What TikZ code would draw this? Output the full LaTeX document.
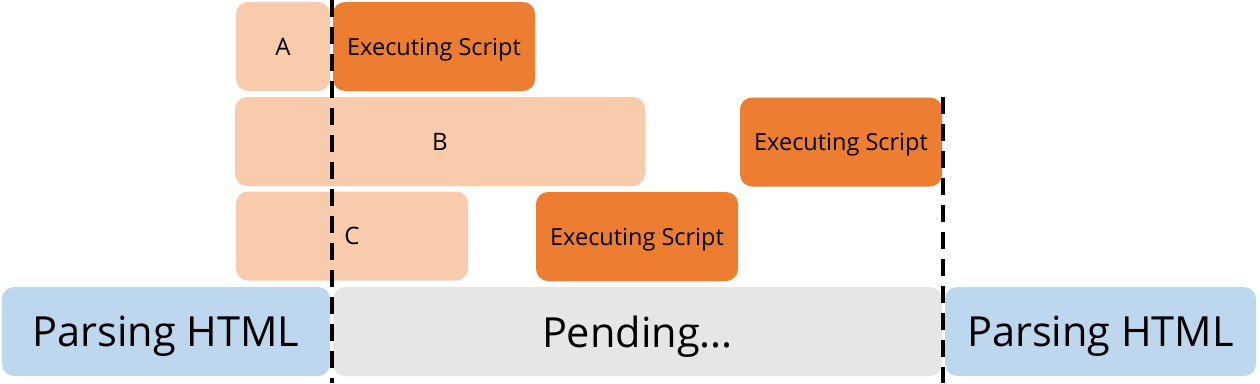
\documentclass[tikz,border=0pt]{standalone}
\usepackage{fontspec}
\setmainfont{Open Sans}
\usepackage{xcolor}
\usepackage{tikz}
\usetikzlibrary{positioning}
\definecolor{scriptOrange}{RGB}{237,125,49}
\definecolor{scriptPeach}{RGB}{248,203,173}
\definecolor{parseBlue}{RGB}{189,215,238}
\definecolor{pendGray}{RGB}{231,230,230}

\begin{document}
\begin{tikzpicture}[x=1pt,y=-1pt,
  box/.style={rounded corners=12pt, inner sep=0pt, minimum height=89pt, text depth=0pt},
  fetchbox/.style={box, fill=scriptPeach, font=\fontsize{24}{28}\selectfont},
  execbox/.style={box, fill=scriptOrange, minimum width=202pt, font=\fontsize{23.5}{28}\selectfont},
  bigbox/.style={box, font=\fontsize{41.5}{48}\selectfont},
  cut/.style={line width=3.5pt, dash pattern=on 17pt off 10pt}]
\useasboundingbox (0,0) rectangle (1260,383);
% scripts A, B, C
\node[fetchbox, minimum width=94pt] (a) at (283,46.5) {A};
\node[execbox] (execA) at (434,46.5) {Executing Script};
\node[fetchbox, minimum width=410pt] (b) at (440,141.5) {B};
\node[execbox] (execB) at (841,142) {Executing Script};
\node[fetchbox, minimum width=232pt] (c) at (352,236) {C};
\node[execbox] (execC) at (637,236.5) {Executing Script};
% html parser
\node[bigbox, fill=parseBlue, minimum width=328pt] (parse1) at (166,331.5) {Parsing HTML};
\node[bigbox, fill=pendGray, minimum width=609pt] (pending) at (637.5,331.5) {Pending...};
\node[bigbox, fill=parseBlue, minimum width=311pt] (parse2) at (1100.5,331.5) {Parsing HTML};
% blocking marks
\coordinate (stopTop) at (332,0);
\coordinate (stopBot) at (332,383);
\coordinate (goTop) at (943,97);
\coordinate (goBot) at (943,383);
\draw[cut] (stopTop) -- (stopBot);
\draw[cut] (goTop) -- (goBot);
\end{tikzpicture}
\end{document}
